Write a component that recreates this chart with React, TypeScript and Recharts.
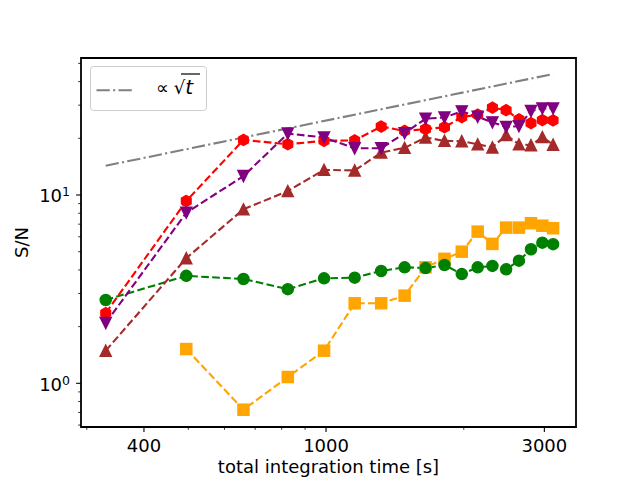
import { LineChart, Line, XAxis, YAxis, ReferenceArea, Legend, Label } from "recharts";

// integration times [s]
const times = [330, 495, 660, 825, 990, 1155, 1320, 1485, 1650, 1815, 1980, 2145, 2310, 2475, 2640, 2805, 2970, 3135];

const redSN = [2.36, 9.29, 19.6, 18.6, 19.4, 19.5, 23.1, 21.9, 22.4, 22.9, 25.9, 26.7, 29.1, 28.2, 25.2, 24.1, 25.0, 24.9];
const purpleSN = [2.09, 8.05, 12.6, 21.2, 20.2, 17.7, 17.7, 21.3, 25.4, 25.8, 27.8, 26.0, 24.3, 23.0, 23.2, 27.9, 28.8, 28.8];
const brownSN = [1.49, 4.62, 8.4, 10.5, 13.6, 13.5, 16.8, 17.8, 20.2, 19.4, 19.3, 18.6, 17.9, 20.8, 18.6, 18.4, 20.3, 18.5];
const greenSN = [2.77, 3.72, 3.58, 3.16, 3.61, 3.64, 3.95, 4.13, 4.09, 4.25, 3.8, 4.13, 4.2, 4.03, 4.48, 5.15, 5.58, 5.48];
const orangeSN = [null, 1.52, 0.724, 1.08, 1.49, 2.66, 2.66, 2.92, 4.13, 4.58, 5.0, 6.39, 5.5, 6.71, 6.71, 7.08, 6.87, 6.66];
// reference line ∝ sqrt(t), only its two ends
const sqrtRef = [14.3, null, null, null, null, null, null, null, null, null, null, null, null, null, null, null, null, 43.9];

const xTicks = [300, 400, 500, 600, 700, 800, 900, 1000, 2000, 3000];
const xMajor = [400, 1000, 3000];
const yTicks = [0.6, 0.7, 0.8, 0.9, 1, 2, 3, 4, 5, 6, 7, 8, 9, 10, 20, 30, 40, 50];
const yMajor = [1, 10];

const X_DOMAIN: [number, number] = [291.4, 3518];
const Y_DOMAIN: [number, number] = [0.586, 53.4];

const FONT = "DejaVu Sans";
const FS = 18;

const data = times.map((t, i) => ({
  t,
  red: redSN[i],
  purple: purpleSN[i],
  brown: brownSN[i],
  green: greenSN[i],
  orange: orangeSN[i],
  ref: sqrtRef[i],
}));

const MS = 11.1;
const DASH = "7.7 3.3";

function marker(kind: string, color: string) {
  return (props: any) => {
    const { cx, cy, index } = props;
    if (cx == null || cy == null || isNaN(cy)) return <g key={index} />;
    const r = MS / 2;
    const common = { fill: color, stroke: color, strokeWidth: 1.4 };
    if (kind === "circle") return <circle key={index} cx={cx} cy={cy} r={r} {...common} />;
    if (kind === "square")
      return <rect key={index} x={cx - r} y={cy - r} width={MS} height={MS} {...common} />;
    if (kind === "up")
      return <polygon key={index} points={`${cx},${cy - r} ${cx - r},${cy + r} ${cx + r},${cy + r}`} {...common} />;
    if (kind === "down")
      return <polygon key={index} points={`${cx},${cy + r} ${cx - r},${cy - r} ${cx + r},${cy - r}`} {...common} />;
    // hexagon, vertex on top
    const pts = [0, 1, 2, 3, 4, 5]
      .map((k) => {
        const a = Math.PI / 2 + (k * Math.PI) / 3;
        return `${cx + r * Math.cos(a)},${cy - r * Math.sin(a)}`;
      })
      .join(" ");
    return <polygon key={index} points={pts} {...common} />;
  };
}

const XTick = ({ x, y, payload }: any) => {
  const major = xMajor.includes(payload.value);
  return (
    <g>
      <line x1={x} x2={x} y1={y} y2={y + (major ? 4.9 : 2.8)} stroke="#000" strokeWidth={major ? 1.1 : 0.8} />
      {major && (
        <text x={x} y={y + 25} textAnchor="middle" fontSize={FS} fontFamily={FONT} fill="#000">
          {payload.value}
        </text>
      )}
    </g>
  );
};

const YTick = ({ x, y, payload }: any) => {
  const major = yMajor.includes(payload.value);
  return (
    <g>
      <line x1={x} x2={x - (major ? 4.9 : 2.8)} y1={y} y2={y} stroke="#000" strokeWidth={major ? 1.1 : 0.8} />
      {major && (
        <text x={x - 11} y={y + 7.5} textAnchor="end" fontSize={FS} fontFamily={FONT} fill="#000">
          10
          <tspan fontSize={12.5} dy={-6}>
            {payload.value === 1 ? "0" : "1"}
          </tspan>
        </text>
      )}
    </g>
  );
};

const LegendBox = () => (
  <svg width={117} height={45} style={{ display: "block" }}>
    <rect x={0.5} y={0.5} width={116} height={44} rx={3} fill="#fff" fillOpacity={0.8} stroke="#cccccc" strokeWidth={1} />
    <line x1={6.5} x2={42.5} y1={24.3} y2={24.3} stroke="#808080" strokeWidth={2.1} strokeDasharray="13.3 3.3 2.1 3.3" />
    <line x1={91} x2={110} y1={8} y2={8} stroke="#000" strokeWidth={1.2} />
    <text x={66} y={27.5} fontSize={FS} fontFamily={FONT} fill="#000">
      ∝
      <tspan dx={5}>√</tspan>
      <tspan fontSize={20} fontStyle="italic">t</tspan>
    </text>
  </svg>
);

export default function App() {
  return (
    <div style={{ position: "absolute", left: 0, top: 0, width: 640, height: 480, background: "#fff", fontFamily: FONT }}>
      <LineChart
        width={640}
        height={480}
        data={data}
        margin={{ top: 58, right: 64, left: 0, bottom: 0 }}
        style={{ fontFamily: FONT }}
      >
        <XAxis
          dataKey="t"
          type="number"
          scale="log"
          domain={X_DOMAIN}
          allowDataOverflow
          ticks={xTicks}
          interval={0}
          tick={<XTick />}
          tickLine={false}
          tickSize={0}
          tickMargin={0}
          axisLine={false}
          height={53}
        >
          <Label
            content={() => (
              <text x={328.5} y={473} textAnchor="middle" fontSize={FS} fontFamily={FONT} fill="#000">
                total integration time [s]
              </text>
            )}
          />
        </XAxis>
        <YAxis
          type="number"
          scale="log"
          domain={Y_DOMAIN}
          allowDataOverflow
          ticks={yTicks}
          interval={0}
          tick={<YTick />}
          tickLine={false}
          tickSize={0}
          tickMargin={0}
          axisLine={false}
          width={81}
        >
          <Label
            content={() => (
              <text x={27.5} y={242.5} transform="rotate(-90, 27.5, 242.5)" textAnchor="middle" fontSize={FS} fontFamily={FONT} fill="#000">
                S/N
              </text>
            )}
          />
        </YAxis>
        <ReferenceArea
          x1={X_DOMAIN[0]}
          x2={X_DOMAIN[1]}
          y1={Y_DOMAIN[0]}
          y2={Y_DOMAIN[1]}
          fill="none"
          stroke="#000"
          strokeWidth={1.8}
          ifOverflow="visible"
        />
        <Legend
          content={() => <LegendBox />}
          layout="vertical"
          align="center"
          verticalAlign="middle"
          wrapperStyle={{ left: 90, top: 66, width: 117, height: 45 }}
        />
        <Line dataKey="ref" stroke="#808080" strokeWidth={2.1} strokeDasharray="13.3 3.3 2.1 3.3" dot={false} activeDot={false} connectNulls isAnimationActive={false} />
        <Line dataKey="orange" stroke="#ffa500" strokeWidth={2.1} strokeDasharray={DASH} dot={marker("square", "#ffa500")} activeDot={false} isAnimationActive={false} />
        <Line dataKey="green" stroke="#008000" strokeWidth={2.1} strokeDasharray={DASH} dot={marker("circle", "#008000")} activeDot={false} isAnimationActive={false} />
        <Line dataKey="brown" stroke="#a52a2a" strokeWidth={2.1} strokeDasharray={DASH} dot={marker("up", "#a52a2a")} activeDot={false} isAnimationActive={false} />
        <Line dataKey="red" stroke="#ff0000" strokeWidth={2.1} strokeDasharray={DASH} dot={marker("hex", "#ff0000")} activeDot={false} isAnimationActive={false} />
        <Line dataKey="purple" stroke="#800080" strokeWidth={2.1} strokeDasharray={DASH} dot={marker("down", "#800080")} activeDot={false} isAnimationActive={false} />
      </LineChart>
    </div>
  );
}
